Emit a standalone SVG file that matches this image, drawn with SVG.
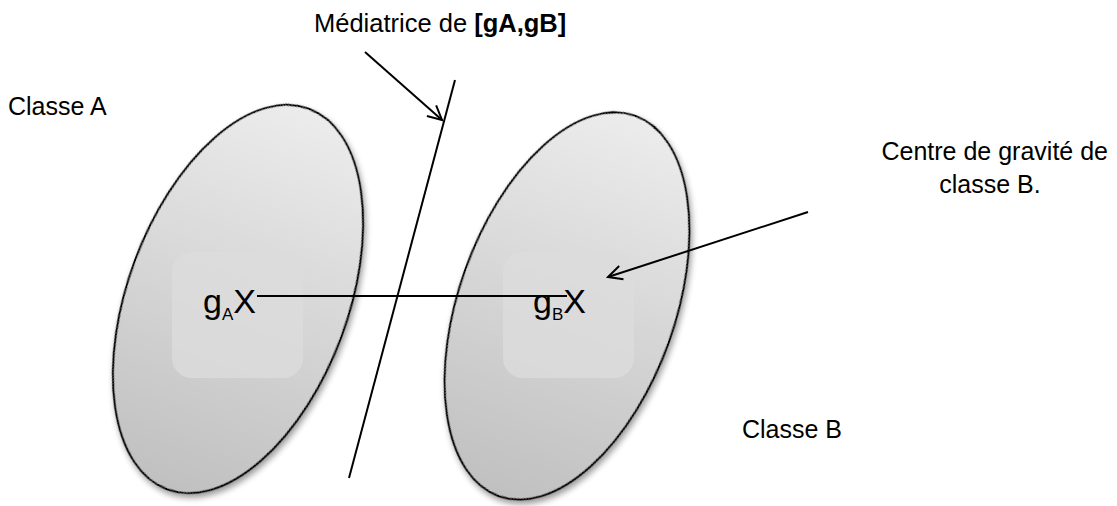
<svg xmlns="http://www.w3.org/2000/svg" width="1117" height="506" viewBox="0 0 1117 506">
<style>
.t{font-family:"Liberation Sans","Open Sans",sans-serif;fill:#000}
.ln{stroke:#000;stroke-width:2;fill:none}
.ell{fill:url(#g);stroke:#000;stroke-width:2}
.in{fill:#dcdcdc;opacity:0.8}
</style>
<defs>
<linearGradient id="g" x1="0" y1="0" x2="0" y2="1">
<stop offset="0" stop-color="#ececec"/>
<stop offset="1" stop-color="#c0c0c0"/>
</linearGradient>
<filter id="sh" x="-20%" y="-20%" width="140%" height="140%">
<feGaussianBlur in="SourceAlpha" stdDeviation="3"/>
<feOffset dx="3" dy="3"/>
<feComponentTransfer><feFuncA type="linear" slope="0.4"/></feComponentTransfer>
<feMerge><feMergeNode/><feMergeNode in="SourceGraphic"/></feMerge>
</filter>
<marker id="ah" markerWidth="18" markerHeight="18" refX="15" refY="9" orient="auto" markerUnits="userSpaceOnUse">
<path d="M1,2 L15,9 L1,16" fill="none" stroke="#000" stroke-width="2"/>
</marker>
</defs>
<g id="classA">
<ellipse class="ell" cx="238" cy="299" rx="110" ry="203" transform="rotate(20.4 238 299)" filter="url(#sh)"/>
<rect class="in" x="172" y="252" width="131" height="126" rx="20"/>
<text class="t" x="203" y="313" font-size="34">g<tspan font-size="17" dy="7">A</tspan><tspan dy="-7">X</tspan></text>
</g>
<g id="classB">
<ellipse class="ell" cx="567" cy="306" rx="108" ry="202" transform="rotate(19.7 567 306)" filter="url(#sh)"/>
<rect class="in" x="503" y="252" width="131" height="126" rx="20"/>
<text class="t" x="533" y="313" font-size="34">g<tspan font-size="17" dy="7">B</tspan><tspan dy="-7">X</tspan></text>
</g>
<g id="connectors">
<line class="ln" x1="455" y1="80" x2="349" y2="478"/>
<line class="ln" x1="257" y1="296" x2="567" y2="296"/>
<line class="ln" x1="365" y1="52" x2="442" y2="120" marker-end="url(#ah)"/>
<line class="ln" x1="808" y1="212" x2="608" y2="277" marker-end="url(#ah)"/>
</g>
<g id="labels">
<text class="t" x="314" y="32" font-size="25.5">Médiatrice de <tspan font-weight="bold">[gA,gB]</tspan></text>
<text class="t" x="8" y="115" font-size="25">Classe A</text>
<text class="t" x="1108" y="160" font-size="25" text-anchor="end">Centre de gravité de</text>
<text class="t" x="990" y="193" font-size="25" text-anchor="middle">classe B.</text>
<text class="t" x="742" y="438" font-size="25">Classe B</text>
</g>
</svg>
